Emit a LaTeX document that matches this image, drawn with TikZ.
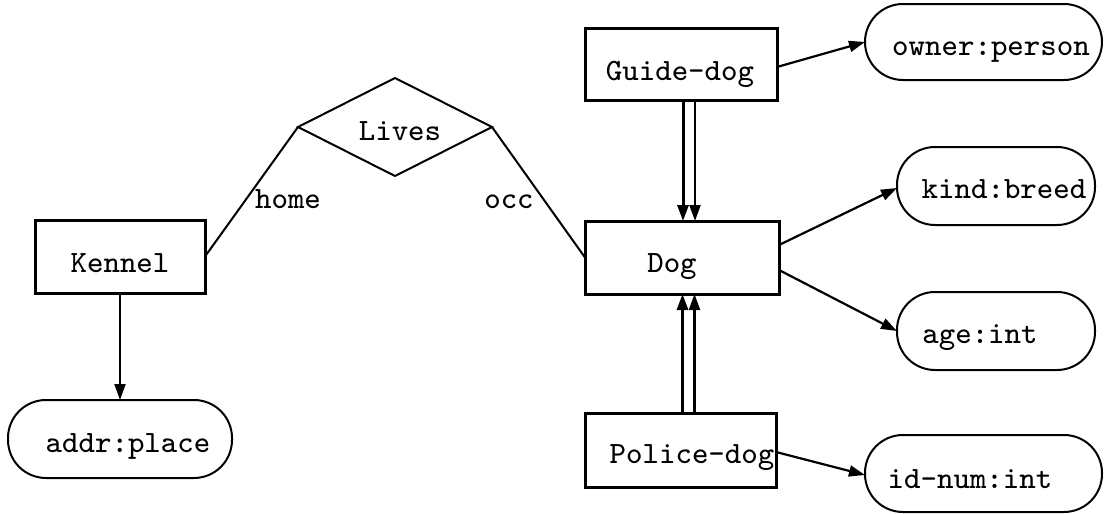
\documentclass[tikz,border=0pt]{standalone}
\usepackage{fontspec}
\newfontfamily\ttxfont{lmmono8-regular.otf}
\usetikzlibrary{arrows.meta}
\begin{document}
\begin{tikzpicture}[x=1pt,y=-1pt,
  ent/.style={draw, line width=3pt, inner sep=0pt, outer sep=0pt},
  attr/.style={draw, line width=2pt, inner sep=0pt, outer sep=0pt, rounded corners=38pt},
  txt/.style={font=\fontsize{31}{37}\selectfont\ttxfont, inner sep=0pt, anchor=base},
  arr/.style={line width=2.2pt, -{Triangle[length=16pt,width=11pt]}},
  conn/.style={line width=2pt}]
\useasboundingbox (0,0) rectangle (1117,514);
% entity boxes
\node[ent, minimum width=192pt, minimum height=72pt] (guide) at (681,64) {};
\node[ent, minimum width=194pt, minimum height=73pt] (dog) at (682,257.5) {};
\node[ent, minimum width=191pt, minimum height=74pt] (police) at (680.5,450) {};
\node[ent, minimum width=170pt, minimum height=73pt] (kennel) at (120,256.5) {};
% attribute boxes
\node[attr, minimum width=237pt, minimum height=76pt] (owner) at (983.5,42) {};
\node[attr, minimum width=198pt, minimum height=78pt] (kind) at (996,186) {};
\node[attr, minimum width=198pt, minimum height=78pt] (age) at (996,331) {};
\node[attr, minimum width=237pt, minimum height=77pt] (idnum) at (983.5,473.5) {};
\node[attr, minimum width=224pt, minimum height=78pt] (addr) at (120,439) {};
% relationship diamond
\coordinate (dt) at (395,78);
\coordinate (dl) at (298,127);
\coordinate (dr) at (492,127);
\coordinate (db) at (395,176);
\draw[line width=2pt, line join=miter] (dt) -- (dr) -- (db) -- (dl) -- cycle;
% texts
\node[txt] (tguide) at (680,80) {Guide-dog};
\node[txt] (tdog) at (672,272) {Dog};
\node[txt] (tpolice) at (692,463) {Police-dog};
\node[txt] (tkennel) at (120,272) {Kennel};
\node[txt] (towner) at (991,55) {owner:person};
\node[txt] (tkind) at (1004,198) {kind:breed};
\node[txt] (tage) at (980,343) {age:int};
\node[txt] (tidnum) at (970,488) {id-num:int};
\node[txt] (taddr) at (128,452) {addr:place};
\node[txt] (tlives) at (400,140) {Lives};
\node[txt] (thome) at (288,208) {home};
\node[txt] (tocc) at (509,208) {occ};
% connectors
\draw[conn] (dl) -- (kennel.east);
\draw[conn] (dr) -- (dog.west);
\draw[arr] (kennel.south) -- (addr.north);
\draw[arr] ([yshift=-3pt]guide.east) -- (owner.west);
\draw[arr] ([yshift=12.5pt]dog.east) -- ([yshift=-2pt]kind.west);
\draw[arr] ([yshift=-12.5pt]dog.east) -- (age.west);
\draw[arr] ([yshift=-2pt]police.east) -- ([yshift=-1.5pt]idnum.west);
\draw[arr, line width=3pt] ([xshift=2pt]guide.south) -- ([xshift=2pt]guide.south |- dog.north);
\draw[arr] ([xshift=14pt]guide.south) -- ([xshift=14pt]guide.south |- dog.north);
\draw[arr, line width=3pt] ([xshift=2pt]police.north) -- ([xshift=2pt]police.north |- dog.south);
\draw[arr] ([xshift=14pt]police.north) -- ([xshift=14pt]police.north |- dog.south);
\end{tikzpicture}
\end{document}
